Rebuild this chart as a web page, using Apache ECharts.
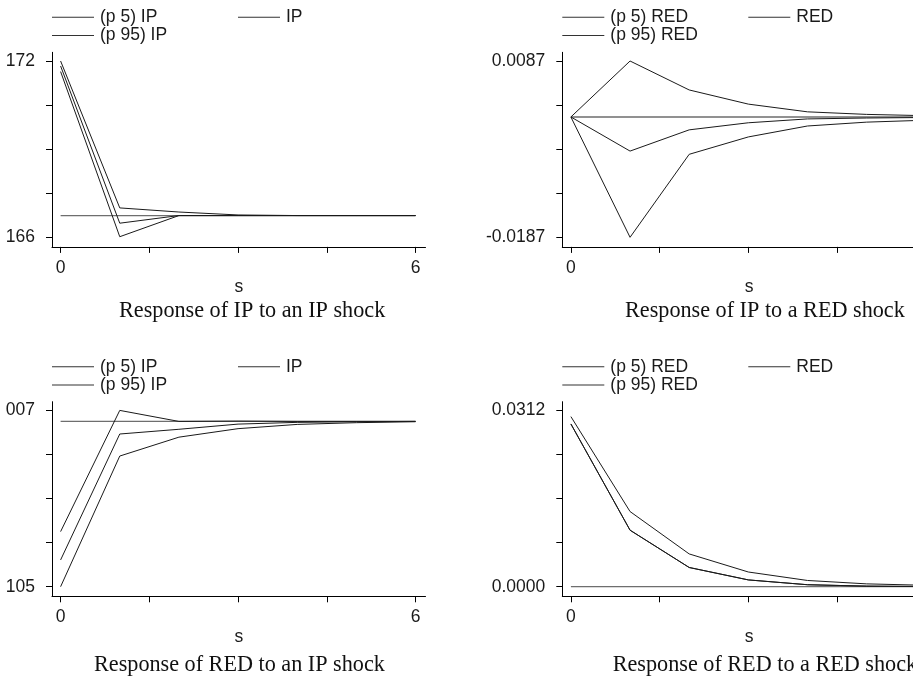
<!DOCTYPE html>
<html>
<head>
<meta charset="utf-8">
<script src="https://cdn.jsdelivr.net/npm/echarts@6.0.0/dist/echarts.min.js"></script>
<style>
html,body{margin:0;padding:0;background:#fff;}
#chart{width:913px;height:680px;clip-path:inset(0 0 0 6.6px);}
</style>
</head>
<body>
<div id="chart"></div>
<script>
// ---------- data ----------
const steps = [0, 1, 2, 3, 4, 5, 6];

// Panel 1: Response of IP to an IP shock
const ipIpP5   = [171.64, 166.02, 166.74, 166.74, 166.74, 166.74, 166.74];
const ipIpIrf  = [171.83, 166.48, 166.74, 166.74, 166.74, 166.74, 166.74];
const ipIpP95  = [172.00, 167.00, 166.86, 166.76, 166.74, 166.74, 166.74];
const ipIpBase = [166.74, 166.74, 166.74, 166.74, 166.74, 166.74, 166.74];
const ipIpTicks = [166, 167.5, 169, 170.5, 172];
const ipIpLabels = [166, 172];

// Panel 2: Response of IP to a RED shock
const ipRedP5   = [0, -0.0187, -0.0058, -0.0031, -0.0014, -0.0008, -0.0005];
const ipRedIrf  = [0, -0.0053, -0.0020, -0.0009, -0.0003, -0.00016, -0.00008];
const ipRedP95  = [0, 0.0087, 0.0042, 0.0020, 0.0008, 0.0004, 0.0002];
const ipRedBase = [0, 0, 0, 0, 0, 0, 0];
const ipRedTicks = [-0.0187, -0.01185, -0.005, 0.00185, 0.0087];
const ipRedLabels = [-0.0187, 0.0087];

// Panel 3: Response of RED to an IP shock
const redIpP5   = [-0.0105, -0.0022, -0.0010, -0.00046, -0.00019, -0.00008, -0.00002];
const redIpIrf  = [-0.0088, -0.0008, -0.0005, -0.00017, -0.00006, -0.00002, 0];
const redIpP95  = [-0.0070, 0.0007, 0.0000, 0.00002, 0, 0, 0];
const redIpBase = [0, 0, 0, 0, 0, 0, 0];
const redIpTicks = [-0.0105, -0.0077, -0.0049, -0.0021, 0.0007];
const redIpLabels = [-0.0105, 0.0007];

// Panel 4: Response of RED to a RED shock
const redRedP5   = [0.0288, 0.0100, 0.0034, 0.0012, 0.00035, 0.0001, 0.00003];
const redRedIrf  = [0.0288, 0.0100, 0.0034, 0.0012, 0.00035, 0.0001, 0.00003];
const redRedP95  = [0.0301, 0.0133, 0.0058, 0.0026, 0.0011, 0.0005, 0.00025];
const redRedBase = [0, 0, 0, 0, 0, 0, 0];
const redRedTicks = [0, 0.0078, 0.0156, 0.0234, 0.0312];
const redRedLabels = [0, 0.0312];

const xTicks = [0, 1.5, 3, 4.5, 6];
const xLabels = [0, 6];

const titles = [
  'Response of IP to an IP shock',
  'Response of IP to a RED shock',
  'Response of RED to an IP shock',
  'Response of RED to a RED shock'
];
const legendIP = ['(p 5) IP', 'IP', '(p 95) IP'];
const legendRED = ['(p 5) RED', 'RED', '(p 95) RED'];

// ---------- layout ----------
const SANS = 'Liberation Sans, Arial, Helvetica, sans-serif';
const SERIF = 'Liberation Serif, Times New Roman, serif';
const INK = '#1a1a1a';
const FS = 17.5;
const colLeft = [52, 562.3];
const rowTop = [52.3, 401.7];
const gridW = 373.5, gridH = 194.6;
const tickSpanPx = 176.3, padTopPx = 8.7, padBotPx = 9.6;
const xPxPerUnit = 59.12, xPadL = 8.6, xPadR = 10;

const panels = [
  {p5: ipIpP5, irf: ipIpIrf, p95: ipIpP95, base: ipIpBase, ticks: ipIpTicks, labels: ipIpLabels, names: legendIP, dec: 0, col: 0, row: 0},
  {p5: ipRedP5, irf: ipRedIrf, p95: ipRedP95, base: ipRedBase, ticks: ipRedTicks, labels: ipRedLabels, names: legendRED, dec: 4, col: 1, row: 0},
  {p5: redIpP5, irf: redIpIrf, p95: redIpP95, base: redIpBase, ticks: redIpTicks, labels: redIpLabels, names: legendIP, dec: 4, col: 0, row: 1},
  {p5: redRedP5, irf: redRedIrf, p95: redRedP95, base: redRedBase, ticks: redRedTicks, labels: redRedLabels, names: legendRED, dec: 4, col: 1, row: 1}
];
const titlePos = [[119, 300], [625, 300], [94, 654], [612.7, 654]];
const nameGaps = [30, 30, 32, 32];

const grid = [], xAxis = [], yAxis = [], series = [], legend = [], title = [];
const pair = arr => arr.map((v, i) => [steps[i], v]);

panels.forEach((p, i) => {
  const left = colLeft[p.col], top = rowTop[p.row];
  grid.push({left: left, top: top, width: gridW, height: gridH, containLabel: false, outerBoundsMode: 'none'});
  const lo = p.ticks[0], hi = p.ticks[p.ticks.length - 1];
  const unit = (hi - lo) / tickSpanPx;
  xAxis.push({
    type: 'value', gridIndex: i,
    min: -xPadL / xPxPerUnit, max: 6 + xPadR / xPxPerUnit,
    name: 's', nameLocation: 'middle', nameGap: nameGaps[i],
    nameTextStyle: {fontFamily: SANS, fontSize: FS, color: INK},
    axisLine: {show: true, onZero: false, lineStyle: {color: '#000', width: 1}},
    axisTick: {show: true, length: 6, lineStyle: {color: '#000'}, customValues: xTicks},
    axisLabel: {show: true, margin: 12, fontFamily: SANS, fontSize: FS, color: INK, customValues: xLabels, formatter: v => String(Math.round(v))},
    splitLine: {show: false}
  });
  yAxis.push({
    type: 'value', gridIndex: i,
    min: lo - unit * padBotPx, max: hi + unit * padTopPx,
    axisLine: {show: true, onZero: false, lineStyle: {color: '#000', width: 1}},
    axisTick: {show: true, length: 6, lineStyle: {color: '#000'}, customValues: p.ticks},
    axisLabel: {show: true, margin: 17, fontFamily: SANS, fontSize: FS, color: INK, customValues: p.labels, formatter: v => v.toFixed(p.dec)},
    splitLine: {show: false}
  });
  const mk = (name, data, color, width, z) => ({
    type: 'line', name: name, xAxisIndex: i, yAxisIndex: i, data: pair(data),
    symbol: 'none', silent: true, animation: false, z: z,
    lineStyle: {color: color, width: width}, itemStyle: {color: color}
  });
  series.push(mk('base' + i, p.base, '#6e6e6e', 1.3, 2));
  series.push(mk(p.names[0], p.p5, INK, 1, 3));
  series.push(mk(p.names[1], p.irf, INK, 1, 3));
  series.push(mk(p.names[2], p.p95, INK, 1, 3));

  const lgPos = [[left, top - 44], [left + 186, top - 44], [left, top - 25.8]];
  [0, 1, 2].forEach(k => {
    legend.push({
      data: [p.names[k]], left: lgPos[k][0], top: lgPos[k][1],
      padding: 0, itemWidth: 42, itemHeight: 1.2, itemGap: 0, selectedMode: false,
      icon: 'path://M0,0L42,0L42,1L0,1Z',
      itemStyle: {color: '#333'},
      textStyle: {fontFamily: SANS, fontSize: FS, color: INK, padding: [1, 0, 0, 1]}
    });
  });
  title.push({
    text: titles[i], left: titlePos[i][0], top: titlePos[i][1], padding: 0,
    textStyle: {fontFamily: SERIF, fontSize: 22.2, fontWeight: 'normal', color: '#111'}
  });
});

const chart = echarts.init(document.getElementById('chart'), null, {renderer: 'canvas'});
chart.setOption({
  backgroundColor: '#fff',
  animation: false,
  title: title, legend: legend, grid: grid, xAxis: xAxis, yAxis: yAxis, series: series
});
</script>
</body>
</html>
